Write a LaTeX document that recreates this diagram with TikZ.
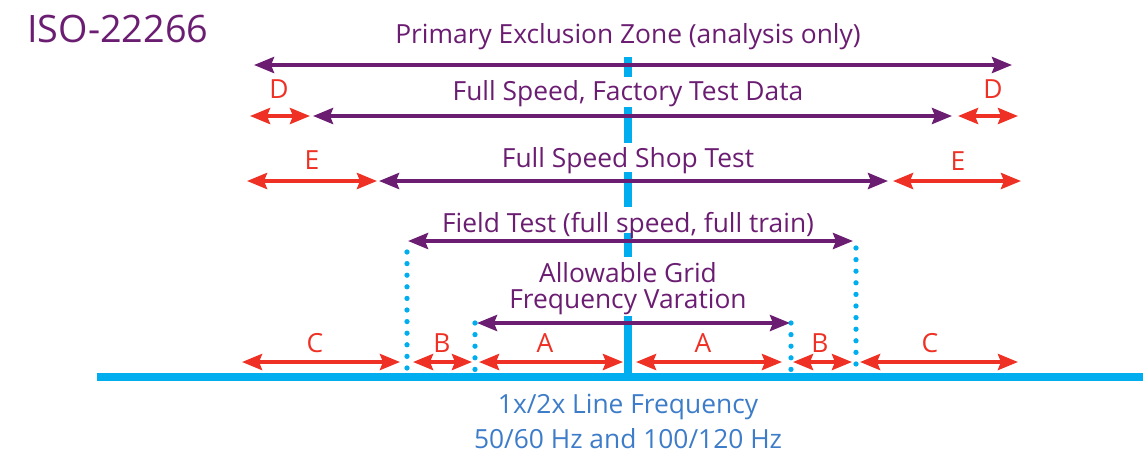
\documentclass[tikz,border=0pt]{standalone}
\usepackage{fontspec}
\setmainfont{Open Sans}
\usetikzlibrary{arrows.meta}
\definecolor{isopurple}{HTML}{6B1D72}
\definecolor{isored}{HTML}{EE3124}
\definecolor{isoblue}{HTML}{00AEEF}
\definecolor{isotext}{HTML}{3D7CC9}

\begin{document}
\begin{tikzpicture}[x=0.02cm,y=-0.02cm,
  >={Stealth[length=0.4cm,width=0.32cm,inset=0.06cm]},
  zone/.style={isopurple,line width=2.2pt,<->},
  band/.style={isored,line width=2.2pt,<->},
  dotline/.style={isoblue,line width=3pt,line cap=round,dash pattern=on 0pt off 6.6pt},
  zonetext/.style={isopurple,font=\fontsize{15}{16}\selectfont,inner sep=0pt,anchor=base},
  bandtext/.style={isored,font=\fontsize{15}{16}\selectfont,inner sep=0pt,anchor=base}]
\useasboundingbox (0,0) rectangle (1143,458);

% Drawing title
\node[isopurple,font=\fontsize{21.5}{26}\selectfont,anchor=base west,inner sep=0pt] (title) at (27,42) {ISO-22266};

% Drawing frequency axis and centre line
\draw[isoblue,line width=4pt] (97,377) -- (1143,377);
\foreach \ya/\yb in {57/77,107/143,172/207,233/257,316/378}
  \draw[isoblue,line width=4pt] (628,\ya) -- (628,\yb);

% Drawing dotted limits
\draw[dotline] (407,252) -- (407,374);
\draw[dotline] (856,248) -- (856,374);
\draw[dotline] (475,323) -- (475,372);
\draw[dotline] (791,323) -- (791,372);

% Primary exclusion zone
\draw[zone] (254,65) -- (1012,65);
\node[zonetext] (primary) at (628,43) {Primary Exclusion Zone (analysis only)};

% Factory test data
\draw[band] (250,116) -- (310,116);
\draw[zone] (313,116) -- (952,116);
\draw[band] (958,116) -- (1018,116);
\node[bandtext] (dleft) at (279,98) {D};
\node[bandtext] (dright) at (993,98) {D};
\node[zonetext] (factory) at (628,100) {Full Speed, Factory Test Data};

% Shop test
\draw[band] (247,181) -- (377,181);
\draw[zone] (379,181) -- (888,181);
\draw[band] (893,181) -- (1021,181);
\node[bandtext] (eleft) at (312,169) {E};
\node[bandtext] (eright) at (958,170) {E};
\node[zonetext] (shop) at (628,167) {Full Speed Shop Test};

% Field test
\draw[zone] (408,241) -- (853,241);
\node[zonetext] (field) at (628,232) {Field Test (full speed, full train)};

% Grid variation
\draw[zone] (477,323) -- (790,323);
\node[zonetext] (allowable) at (628,282) {Allowable Grid};
\node[zonetext] (variation) at (628,308) {Frequency Varation};

% Margins
\draw[band] (242,362) -- (400,362);
\draw[band] (413,362) -- (472,362);
\draw[band] (479,362) -- (623,362);
\draw[band] (636,362) -- (782,362);
\draw[band] (793,362) -- (852,362);
\draw[band] (860,362) -- (1018,362);
\node[bandtext] (cleft) at (315,352) {C};
\node[bandtext] (bleft) at (442,352) {B};
\node[bandtext] (aleft) at (545,352) {A};
\node[bandtext] (aright) at (703,352) {A};
\node[bandtext] (bright) at (820,352) {B};
\node[bandtext] (cright) at (930,352) {C};

% Line frequency
\node[zonetext,isotext] (linefreq) at (628,413) {1x/2x Line Frequency};
\node[zonetext,isotext] (hertz) at (628,448) {50/60 Hz and 100/120 Hz};
\end{tikzpicture}
\end{document}
